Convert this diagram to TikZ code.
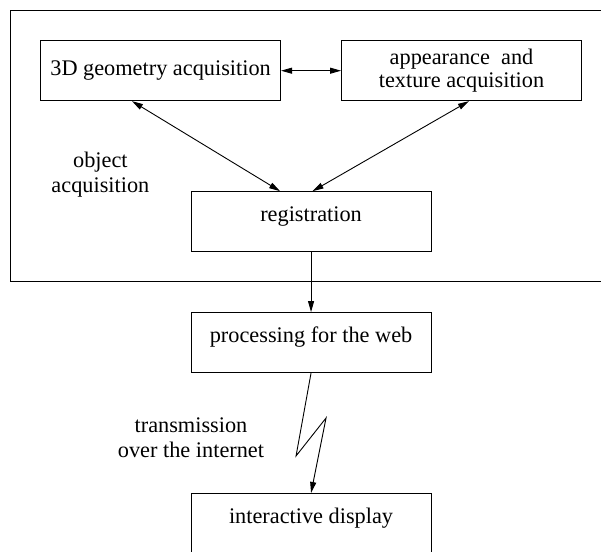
\documentclass[tikz,border=0pt]{standalone}
\usepackage{fontspec}
\setmainfont{Liberation Serif}
\usetikzlibrary{positioning,calc,arrows.meta}

\begin{document}
\begin{tikzpicture}[x=1pt,y=-1pt,font=\fontsize{22.3}{25}\selectfont,line width=0.9pt,
      box/.style={draw,minimum width=240pt,minimum height=60pt,inner sep=2pt},
      high/.style={text height=8pt,text depth=8pt},
      outer/.style={draw},
      lbl/.style={align=center,inner sep=0pt},
      arr/.style={-{Triangle[length=11pt,width=6pt]}},
      darr/.style={{Triangle[length=11pt,width=6pt]}-{Triangle[length=11pt,width=6pt]}}]
    \useasboundingbox (0,0) rectangle (601,551);
    \draw[outer] (10.5,10.7) rectangle (640,281);
    \node[box] (geo) at (160.6,70.7) {3D geometry acquisition};
    \node[box,align=center,right=60pt of geo] (app) {appearance\ \ and\\[-2.5pt]texture acquisition};
    \coordinate (mid) at ($(geo.south)!0.5!(app.south)$);
    \node[box,high,below=90pt of mid] (reg) {registration};
    \node[box,high,below=60pt of reg] (proc) {processing for the web};
    \node[box,text height=8pt,text depth=18pt,minimum height=70pt,below=120pt of proc] (disp) {interactive display};
    \node[lbl] (obj) at (100.4,174.5) {object\\acquisition};
    \node[lbl] (net) at (191,437.5) {transmission\\over the internet};
    \draw[darr] (geo)--(app);
    \draw[darr] ([xshift=-28.6pt]geo.south)--([xshift=-31pt]reg.north);
    \draw[darr] ([xshift=7.4pt]app.south)--([xshift=1.5pt]reg.north);
    \draw[arr] (reg)--(proc);
    \draw[arr] (proc.south)--++(-15,83)--++(30,-38)--(disp.north);
  \end{tikzpicture}
\end{document}
